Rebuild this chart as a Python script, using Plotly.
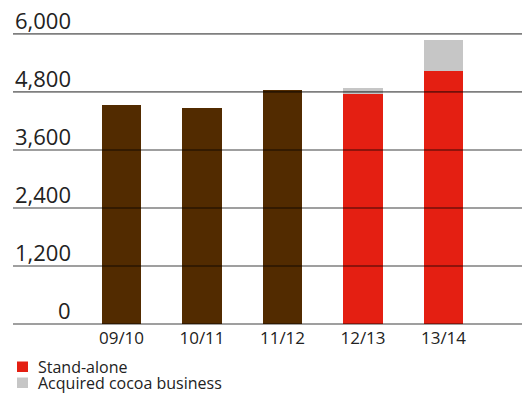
import plotly.graph_objects as go

years = ["09/10", "10/11", "11/12", "12/13", "13/14"]
group_values = [4530, 4460, 4840, None, None]
standalone = [None, None, None, 4760, 5230]
acquired = [None, None, None, 120, 640]
tick_vals = [0, 1200, 2400, 3600, 4800, 6000]
tick_text = ["0", "1,200", "2,400", "3,600", "4,800", "6,000"]
legend_labels = ["Stand-alone", "Acquired cocoa business"]

BROWN = "#522b00"
RED = "#e41f12"
GRAY = "#c6c6c6"
TXT = "#222222"
FONT = "Open Sans"

# plot area geometry (pixels) used to convert pixel offsets to paper units
L, R, T, B = 13, 4, 29, 69
W, H = 526, 395
PW, PH = W - L - R, H - T - B


def px_x(px):
    return (px - L) / PW


def px_y(px):
    return (H - B - px) / PH


fig = go.Figure()
fig.add_trace(go.Bar(x=years, y=group_values, marker_color=BROWN, showlegend=False,
                     marker_line_width=0, name="Group"))
fig.add_trace(go.Bar(x=years, y=standalone, marker_color=RED, name=legend_labels[0],
                     marker_line_width=0, showlegend=False))
fig.add_trace(go.Bar(x=years, y=acquired, marker_color=GRAY, name=legend_labels[1],
                     marker_line_width=0, showlegend=False))

shapes = []
annotations = []
for v, t in zip(tick_vals, tick_text):
    shapes.append(dict(type="line", xref="paper", x0=0, x1=1, yref="y", y0=v, y1=v,
                       line=dict(color="rgba(0,0,0,0.5)", width=1.6), layer="above"))
    annotations.append(dict(xref="paper", x=px_x(73), xanchor="right", yref="y", y=v,
                            yanchor="bottom", text=t, showarrow=False, yshift=-2,
                            xshift=-1, borderpad=0,
                            font=dict(family=FONT, size=22, color=TXT)))

# manual legend (swatch + label)
for i, (lab, col) in enumerate(zip(legend_labels, [RED, GRAY])):
    yc = 367 + 16 * i
    shapes.append(dict(type="rect", xref="paper", yref="paper",
                       x0=px_x(17), x1=px_x(28), y0=px_y(yc + 5), y1=px_y(yc - 5.5),
                       fillcolor=col, line=dict(width=0), layer="above"))
    annotations.append(dict(xref="paper", x=px_x(37), xanchor="left", yref="paper",
                            y=px_y(yc), yanchor="middle", text=lab, showarrow=False,
                            borderpad=0, font=dict(family=FONT, size=16, color=TXT)))

fig.update_layout(
    width=W, height=H,
    margin=dict(l=L, r=R, t=T, b=B),
    paper_bgcolor="white", plot_bgcolor="white",
    barmode="stack", bargap=0.515,
    xaxis=dict(range=[-1.348, 4.975], showgrid=False, showline=False, ticks="",
               tickfont=dict(family=FONT, size=17, color=TXT), fixedrange=True),
    yaxis=dict(range=[-40, 6100], showgrid=False, zeroline=False, showline=False,
               showticklabels=False, ticks="", fixedrange=True),
    shapes=shapes,
    annotations=annotations,
    showlegend=False,
)

fig.write_html("out.html", config={"displayModeBar": False},
               post_script="document.body.style.margin='0';document.body.style.padding='0';")
